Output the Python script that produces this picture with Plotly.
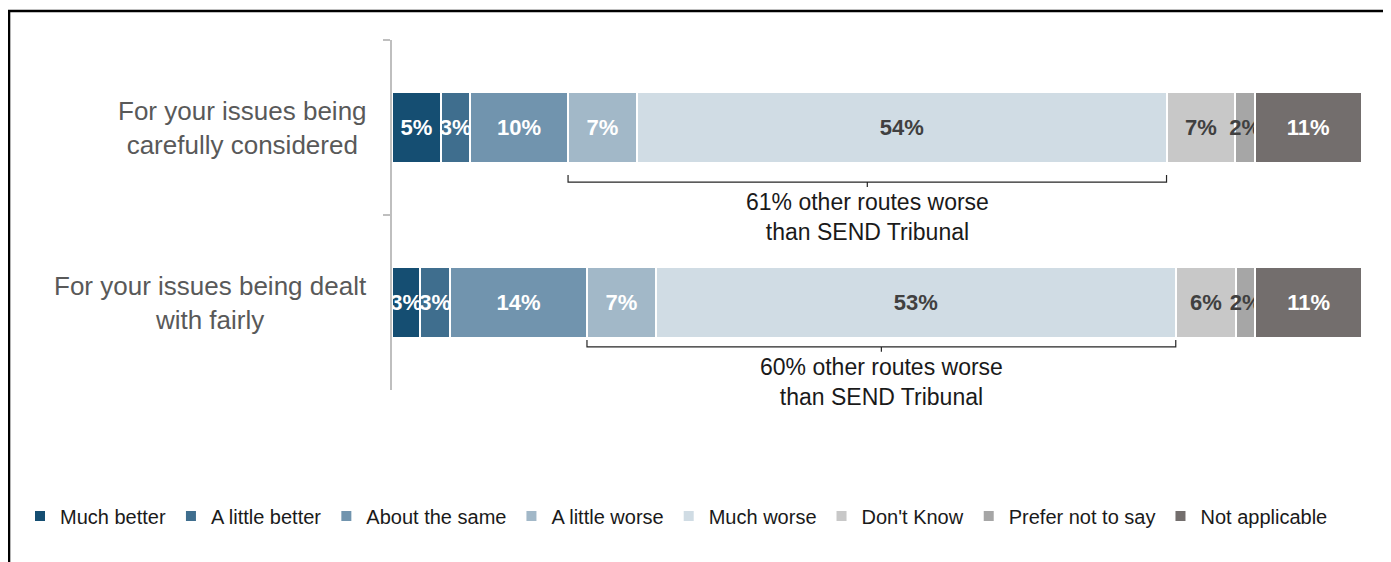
import plotly.graph_objects as go

# ---- data ----
categories = ["For your issues being<br>carefully considered",
              "For your issues being dealt<br>with fairly"]
series_names = ["Much better", "A little better", "About the same", "A little worse",
                "Much worse", "Don't Know", "Prefer not to say", "Not applicable"]
# underlying shares
values_considered = [5.05, 3.0, 10.1, 7.1, 54.6, 7.1, 2.0, 11.0]
values_fairly = [2.9, 3.1, 14.1, 7.1, 53.6, 6.2, 2.0, 11.0]
# printed labels (%)
labels_considered = [5, 3, 10, 7, 54, 7, 2, 11]
labels_fairly = [3, 3, 14, 7, 53, 6, 2, 11]

colors = ["#154E72", "#3F6E8E", "#7194AE", "#A2B8C8", "#D0DCE4", "#C8C8C8", "#A6A6A6", "#736E6D"]
text_colors = ["white", "white", "white", "white", "#404040", "#404040", "#404040", "white"]

FONT = "Arial, Liberation Sans, sans-serif"

fig = go.Figure()
for i, name in enumerate(series_names):
    fig.add_trace(go.Bar(
        name=name,
        y=categories,
        x=[values_considered[i], values_fairly[i]],
        orientation="h",
        width=0.405,
        marker=dict(color=colors[i], line=dict(color="white", width=2)),
        text=[f"{labels_considered[i]}%", f"{labels_fairly[i]}%"],
        textposition="inside",
        insidetextanchor="middle",
        textangle=0,
        constraintext="none",
        textfont=dict(family=FONT, size=22, color=text_colors[i], weight="bold"),
        hoverinfo="skip",
    ))

fig.update_layout(
    barmode="stack",
    width=1383, height=554,
    margin=dict(l=384, r=29, t=32, b=172),
    paper_bgcolor="white", plot_bgcolor="white",
    font=dict(family=FONT),
    showlegend=True,
    legend=dict(orientation="h", x=-0.3835, xanchor="left", y=-0.36, yanchor="middle",
                font=dict(family=FONT, size=20, color="#1a1a1a"),
                bgcolor="rgba(0,0,0,0)",
                itemwidth=30, tracegroupgap=0, traceorder="normal"),
    xaxis=dict(range=[0, 100], visible=False, fixedrange=True),
    yaxis=dict(type="category", categoryarray=categories, autorange="reversed",
               showticklabels=False, showline=True, linecolor="#BFBFBF", linewidth=2,
               ticks="outside", tickson="boundaries", ticklen=7, tickcolor="#BFBFBF",
               tickwidth=2, showgrid=False, zeroline=False),
)

# category labels (centred text, right-aligned block)
for cat in categories:
    fig.add_annotation(x=-0.024, xref="paper", y=cat, yref="y", text=cat,
                       xanchor="right", yanchor="middle", align="center", showarrow=False,
                       font=dict(family=FONT, size=26, color="#595959"))

# brackets for "worse" groups
bracket_specs = [
    (values_considered, labels_considered, 0.614, 0.594, 0.580, 0.493),
    (values_fairly, labels_fairly, 0.143, 0.123, 0.109, 0.023),
]
for vals, labs, y_tip, y_line, y_mid, y_text in bracket_specs:
    x0 = sum(vals[:3])
    x1 = sum(vals[:5])
    xm = (x0 + x1) / 2
    fig.add_shape(type="path", xref="x", yref="paper",
                  path=f"M {x0} {y_tip} L {x0} {y_line} L {x1} {y_line} L {x1} {y_tip} "
                       f"M {xm} {y_line} L {xm} {y_mid}",
                  line=dict(color="#262626", width=1.2))
    worse = labs[3] + labs[4]
    fig.add_annotation(x=xm, xref="x", y=y_text, yref="paper",
                       text=f"{worse}% other routes worse<br>than SEND Tribunal",
                       showarrow=False, xanchor="center", yanchor="middle", align="center",
                       font=dict(family=FONT, size=23, color="#1a1a1a"))

# outer frame
fig.add_shape(type="rect", xref="paper", yref="paper",
              x0=-0.3948, x1=1.04, y0=-0.52, y1=1.083,
              line=dict(color="black", width=2.5), fillcolor="rgba(0,0,0,0)", layer="below")

fig.write_html("out.html")
